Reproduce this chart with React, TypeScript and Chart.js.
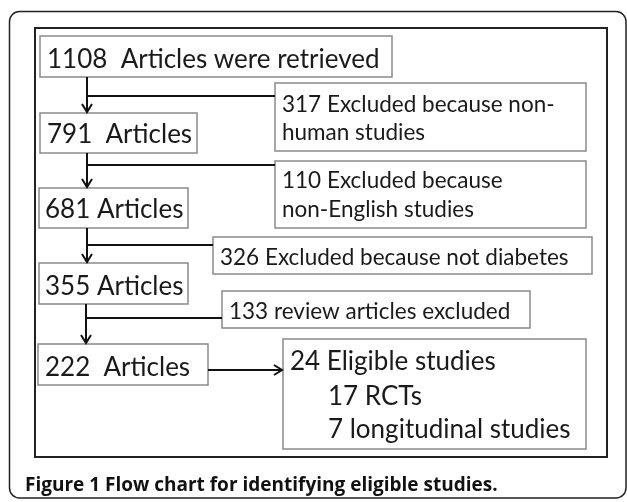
import React, { useEffect, useRef } from "react";
import { Chart, registerables } from "chart.js";
Chart.register(...registerables);

// ---- content ----
const stageCounts = [1108, 791, 681, 355, 222];
const stageLabels = ["1108  Articles were retrieved", "791  Articles", "681 Articles", "355 Articles", "222  Articles"];
const excludedCounts = [317, 110, 326, 133];
const excludedLabels = [
  ["317 Excluded because non-", "human studies"],
  ["110 Excluded because", "non-English studies"],
  ["326 Excluded because not diabetes"],
  ["133 review articles excluded"],
];
const finalLabels = ["24 Eligible studies", "17 RCTs", "7 longitudinal studies"];
const caption = "Figure 1 Flow chart for identifying eligible studies.";

// ---- layout (data units = canvas px) ----
const stageBoxes = [
  [40, 36, 392, 77],
  [40, 113, 197, 153],
  [39, 188, 188, 228],
  [39, 263, 188, 304],
  [38, 344, 208, 385],
];
const stageTextX = [47, 47, 45, 45, 45];
const stageBase = [68, 143, 218, 295, 376];
const exclBoxes = [
  [275, 83, 586, 151],
  [275, 161, 586, 228],
  [213, 237, 592, 274],
  [222, 291, 530, 328],
];
const exclTextX = [282, 282, 220, 229];
const exclBaselines = [[112, 140], [188, 217], [265], [319]];
const branchY = [96, 165, 245, 318];
const trunkX = [87, 87, 87, 86];
const finalBox = [283, 339, 586, 449];
const finalTextX = [290, 328, 328];
const finalBaselines = [370, 405, 438];

export default function App() {
  const ref = useRef<HTMLCanvasElement>(null);
  useEffect(() => {
    document.body.style.margin = "0";
    const canvas = ref.current!;
    const plugin = {
      id: "flow",
      afterDraw(chart: any) {
        const ctx = chart.ctx as CanvasRenderingContext2D;
        const xs = chart.scales.x, ys = chart.scales.y;
        const X = (v: number) => xs.getPixelForValue(v);
        const Y = (v: number) => ys.getPixelForValue(v);
        ctx.save();
        ctx.fillStyle = "#fff";
        ctx.fillRect(0, 0, chart.width, chart.height);
        // outer rounded frame
        ctx.strokeStyle = "#222";
        ctx.lineWidth = 1.5;
        ctx.beginPath();
        (ctx as any).roundRect(X(9.5), Y(11.5), X(626) - X(9.5), Y(498) - Y(11.5), 10);
        ctx.stroke();
        // inner frame
        ctx.lineWidth = 2;
        ctx.strokeRect(X(35), Y(28), X(607) - X(35), Y(457) - Y(28));
        // boxes
        const box = (b: number[]) => {
          ctx.strokeStyle = "#8a8a8a";
          ctx.lineWidth = 1.5;
          ctx.strokeRect(X(b[0]), Y(b[1]), X(b[2]) - X(b[0]), Y(b[3]) - Y(b[1]));
        };
        stageBoxes.forEach(box);
        exclBoxes.forEach(box);
        box(finalBox);
        // connectors
        ctx.strokeStyle = "#111";
        ctx.lineWidth = 2;
        const line = (x1: number, y1: number, x2: number, y2: number) => {
          ctx.beginPath();
          ctx.moveTo(X(x1), Y(y1));
          ctx.lineTo(X(x2), Y(y2));
          ctx.stroke();
        };
        const headDown = (x: number, y: number) => {
          ctx.beginPath();
          ctx.moveTo(X(x - 5), Y(y - 8));
          ctx.lineTo(X(x), Y(y));
          ctx.lineTo(X(x + 5), Y(y - 8));
          ctx.stroke();
        };
        const headRight = (x: number, y: number) => {
          ctx.beginPath();
          ctx.moveTo(X(x - 8), Y(y - 5));
          ctx.lineTo(X(x), Y(y));
          ctx.lineTo(X(x - 8), Y(y + 5));
          ctx.stroke();
        };
        for (let i = 0; i < 4; i++) {
          const tx = trunkX[i];
          const top = stageBoxes[i][3];
          const bot = stageBoxes[i + 1][1];
          line(tx, top, tx, bot - 1);
          headDown(tx, bot - 1);
          line(tx, branchY[i], exclBoxes[i][0], branchY[i]);
        }
        const ay = 370;
        line(stageBoxes[4][2], ay, finalBox[0] - 1, ay);
        headRight(finalBox[0] - 1, ay);
        // texts
        ctx.fillStyle = "#1a1a1a";
        ctx.textBaseline = "alphabetic";
        ctx.font = "26px Lato";
        stageLabels.forEach((t, i) => ctx.fillText(t, X(stageTextX[i]), Y(stageBase[i])));
        ctx.font = "22.5px Lato";
        excludedLabels.forEach((lines, i) =>
          lines.forEach((t, j) => ctx.fillText(t, X(exclTextX[i]), Y(exclBaselines[i][j])))
        );
        ctx.font = "26px Lato";
        finalLabels.forEach((t, i) => ctx.fillText(t, X(finalTextX[i]), Y(finalBaselines[i])));
        ctx.font = "bold 19px 'Open Sans'";
        ctx.fillStyle = "#111";
        ctx.fillText(caption, X(25), Y(491));
        ctx.restore();
      },
    };
    const chart = new Chart(canvas, {
      type: "scatter",
      data: { datasets: [{ data: [] }] },
      options: {
        responsive: false,
        animation: false,
        layout: { padding: 0 },
        plugins: { legend: { display: false }, tooltip: { enabled: false } },
        scales: {
          x: { type: "linear", min: 0, max: 627, display: false },
          y: { type: "linear", min: 0, max: 502, reverse: true, display: false },
        },
      },
      plugins: [plugin],
    });
    return () => chart.destroy();
  }, []);
  return <canvas ref={ref} width={627} height={502} style={{ display: "block" }} />;
}
